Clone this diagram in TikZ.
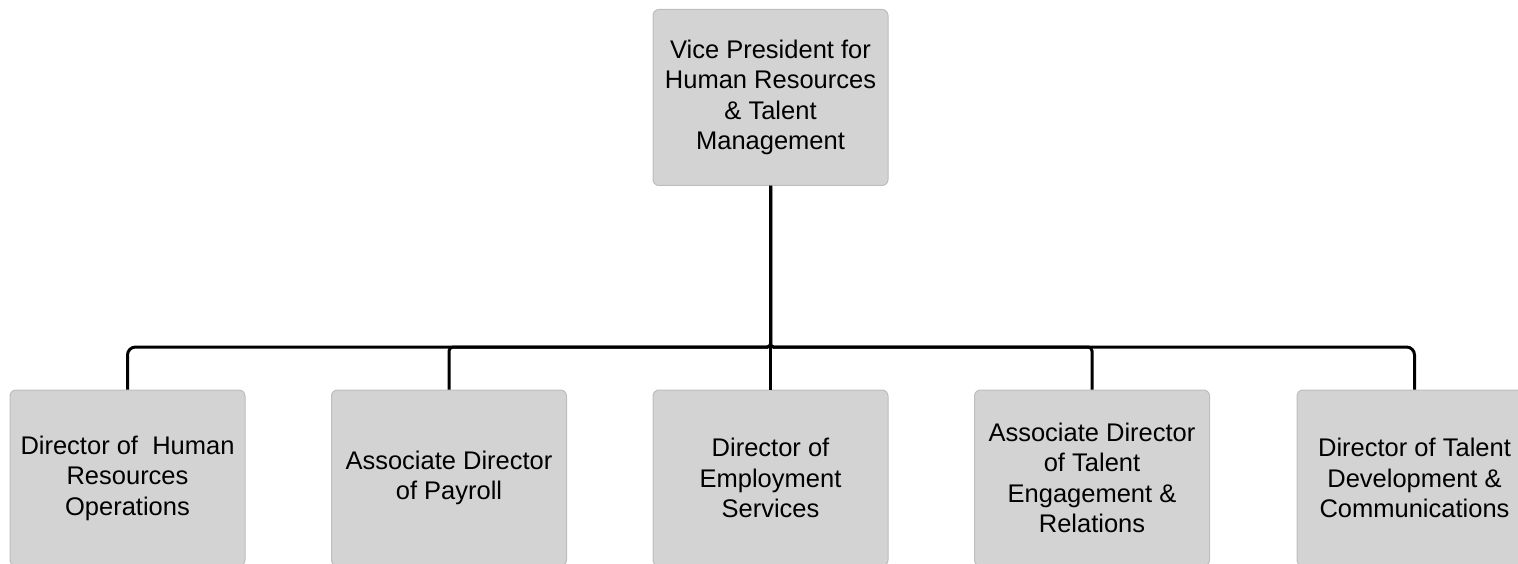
\documentclass[tikz,border=0pt]{standalone}
\usepackage{fontspec}
\setmainfont{Liberation Sans}
\definecolor{boxfill}{HTML}{D3D3D3}
\definecolor{boxline}{HTML}{BDBDBD}
\tikzset{
  post/.style={draw=boxline, fill=boxfill, rounded corners=6pt, line width=1pt,
    minimum width=235pt, minimum height=176pt, inner sep=2pt, align=center,
    font=\fontsize{25.5}{30.5}\selectfont},
  link/.style={line width=3pt, draw=black}
}
\begin{document}
\begin{tikzpicture}[x=1pt,y=-1pt]
	\useasboundingbox (0,0) rectangle (1518,564);
	\clip (0,0) rectangle (1518,564);
	\node[post] (vp) at (770.5,97.5) {Vice President for\\Human Resources\\\& Talent\\Management};
	\foreach \n/\x/\t in {c1/127.5/{Director of~ Human\\Resources\\Operations},
		c2/449/{Associate Director\\of Payroll},
		c3/770.5/{Director of\\Employment\\Services},
		c4/1092/{Associate Director\\of Talent\\Engagement \&\\Relations},
		c5/1414.5/{Director of Talent\\Development \&\\Communications}}{
		\node[post] (\n) at (\x,478) {\t};
	}
	\coordinate (bus) at (770.5,347);
	\foreach \n/\r in {c1/8,c2/4,c4/4,c5/8}{
		\draw[link] (vp.south) [rounded corners=3pt] -- (bus) [rounded corners=\r pt] -| (\n.north);
	}
	\draw[link] (vp.south) -- (c3.north);
\end{tikzpicture}
\end{document}
